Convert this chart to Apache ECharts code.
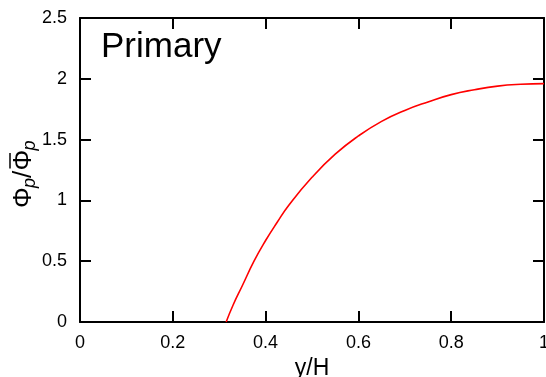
<!DOCTYPE html>
<html>
<head>
<meta charset="utf-8">
<script src="https://cdn.jsdelivr.net/npm/echarts@6/dist/echarts.min.js"></script>
<style>
  html, body { margin: 0; padding: 0; background: #fff; }
  #chart { width: 546px; height: 377px; }
</style>
</head>
<body>
<div id="chart"></div>
<script>
// curve
const yH  = [0.315, 0.33, 0.35, 0.375, 0.40, 0.425, 0.45, 0.50, 0.55, 0.60, 0.65, 0.70, 0.75, 0.80, 0.85, 0.90, 0.95, 1.0];
const phi = [0.0,   0.14, 0.30, 0.50,  0.67, 0.82,  0.96, 1.19, 1.38, 1.53, 1.65, 1.74, 1.81, 1.87, 1.91, 1.94, 1.955, 1.96];
const xTicks = { min: 0, max: 1, interval: 0.2 };
const yTicks = { min: 0, max: 2.5, interval: 0.5 };

const FONT = 'Liberation Sans';
const myChart = echarts.init(document.getElementById('chart'));

const axisLine = { show: true, onZero: false, lineStyle: { color: '#000', width: 2 } };
const tick = { show: true, inside: true, length: 11, lineStyle: { color: '#000', width: 2 } };
const label = { color: '#000', fontFamily: FONT, fontSize: 18 };

// y axis title: Φp / Φ̄p, drawn as a rotated group so the bar sits over the second Φ
const big = { fontFamily: FONT, fontSize: 26, fill: '#000', verticalAlign: 'middle' };
const sub = { fontFamily: FONT, fontSize: 18, fontStyle: 'italic', fill: '#000', verticalAlign: 'middle' };
const yTitle = {
    type: 'group', x: 24, y: 208, rotation: Math.PI / 2,
    children: [
        { type: 'text', x: 0,    y: 0, style: { ...big, text: 'Φ' } },
        { type: 'text', x: 20,   y: 6, style: { ...sub, text: 'p' } },
        { type: 'text', x: 30,   y: 0, style: { ...big, text: '/' } },
        { type: 'text', x: 37.5, y: 0, style: { ...big, text: 'Φ' } },
        { type: 'line', shape: { x1: 39.5, y1: -14, x2: 55, y2: -14 }, style: { stroke: '#000', lineWidth: 1.5 } },
        { type: 'text', x: 57.5, y: 6, style: { ...sub, text: 'p' } }
    ]
};

myChart.setOption({
    backgroundColor: '#ffffff',
    animation: false,
    grid: { left: 80, right: 2, top: 18, bottom: 55, containLabel: false, outerBoundsMode: 'none' },
    graphic: [
        { type: 'text', left: 101, top: 30,
          style: { text: 'Primary', fontFamily: FONT, fontSize: 35, fill: '#000' } },
        yTitle
    ],
    xAxis: [
        { type: 'value', ...xTicks, position: 'bottom', axisLine, axisTick: tick, splitLine: { show: false },
          axisLabel: { ...label, margin: 12 },
          name: 'y/H', nameLocation: 'middle', nameGap: 27,
          nameTextStyle: { color: '#000', fontFamily: FONT, fontSize: 23 } },
        { type: 'value', ...xTicks, position: 'top', axisLine, axisTick: tick, splitLine: { show: false },
          axisLabel: { show: false } }
    ],
    yAxis: [
        { type: 'value', ...yTicks, position: 'left', axisLine, axisTick: tick, splitLine: { show: false },
          axisLabel: { ...label, margin: 13 } },
        { type: 'value', ...yTicks, position: 'right', axisLine, axisTick: tick, splitLine: { show: false },
          axisLabel: { show: false } }
    ],
    series: [{
        type: 'line',
        data: yH.map((x, i) => [x, phi[i]]),
        smooth: true,
        symbol: 'none',
        lineStyle: { color: '#ff0000', width: 1.6 },
        z: 1
    }]
});
</script>
</body>
</html>
